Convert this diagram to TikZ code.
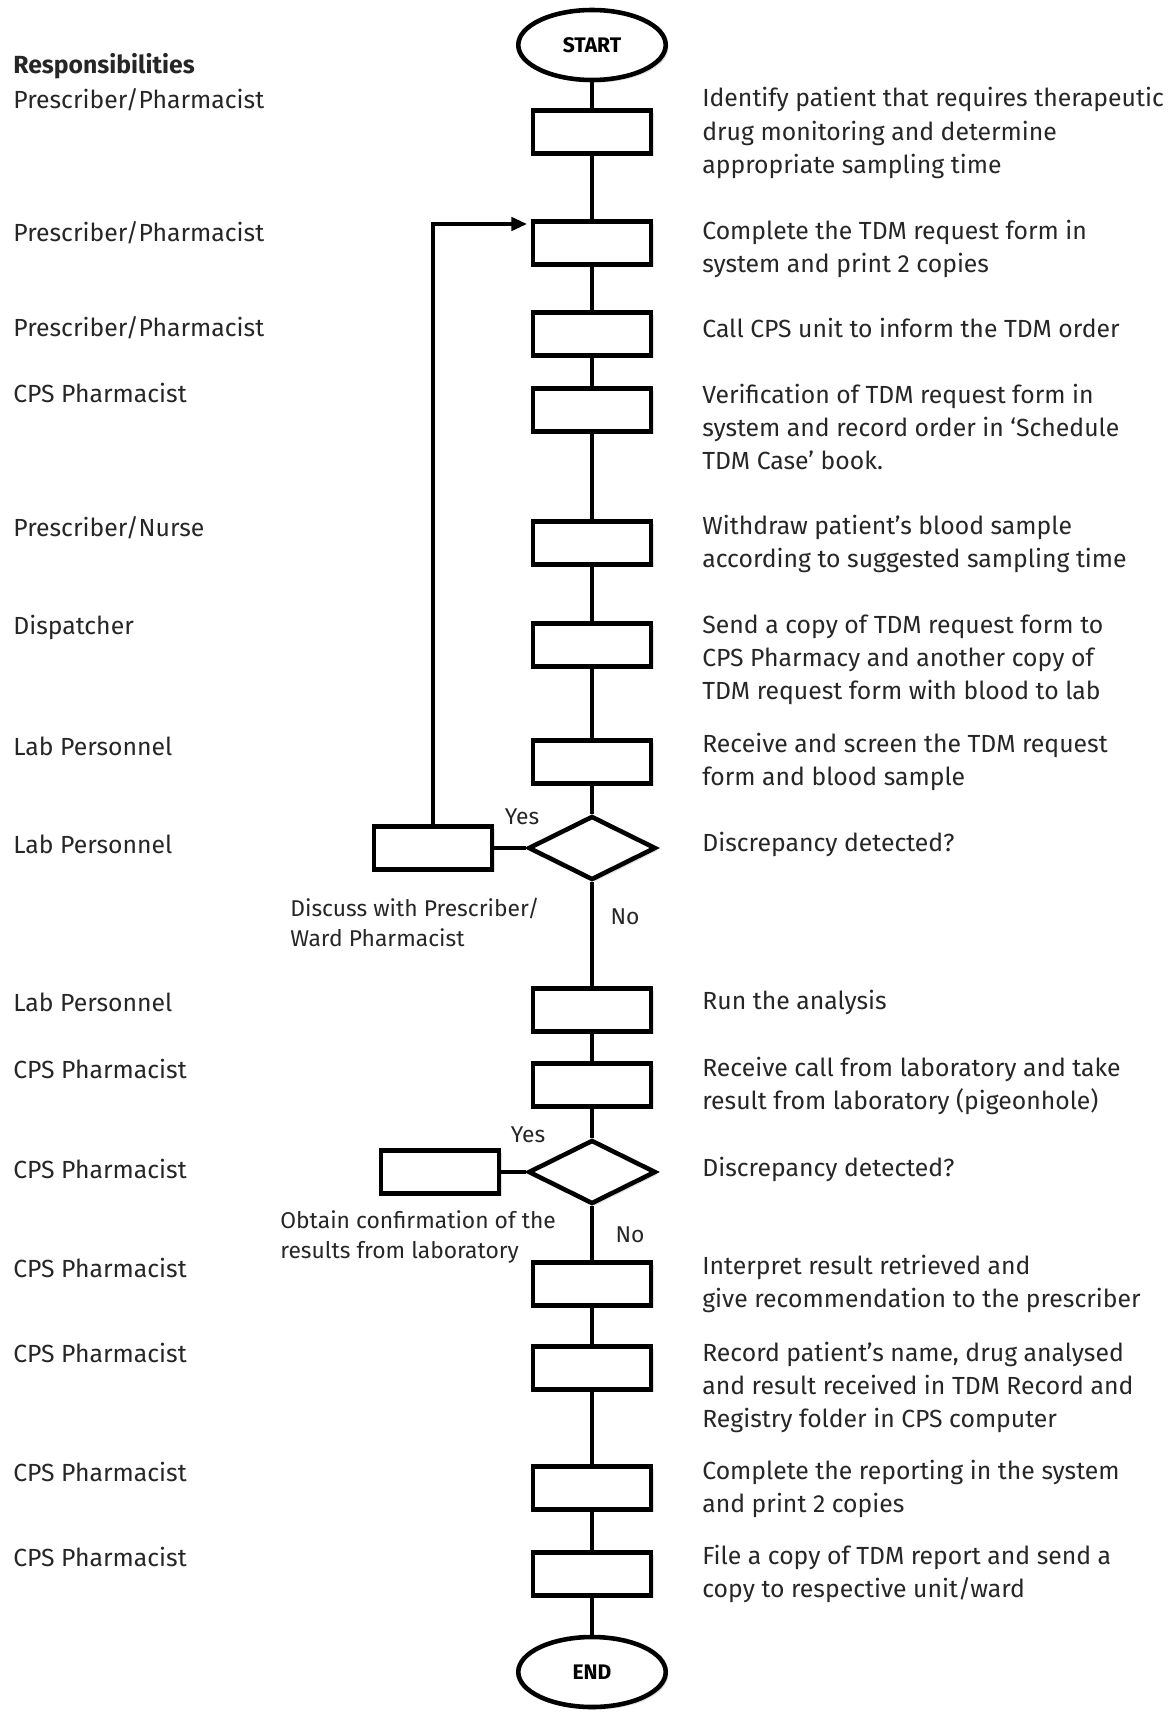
\documentclass[tikz,border=0pt]{standalone}
\usepackage{fontspec}
\setmainfont{Fira Sans}
\usetikzlibrary{shapes.geometric,positioning,arrows.meta,shadows}

\tikzset{
    box/.style={draw, line width=2.6pt, fill=white, minimum width=2.36cm, minimum height=0.86cm,
        drop shadow={opacity=0.25, shadow xshift=1.5pt, shadow yshift=-1.5pt}},
    dec/.style={draw, diamond, line width=2.6pt, fill=white, minimum width=2.55cm, minimum height=1.28cm,
        inner sep=0pt, drop shadow={opacity=0.25, shadow xshift=1.5pt, shadow yshift=-1.5pt}},
    term/.style={draw, ellipse, line width=2.6pt, fill=white, minimum width=2.95cm, minimum height=1.4cm,
        font=\bfseries\fontsize{12}{14}\selectfont,
        drop shadow={opacity=0.25, shadow xshift=1.5pt, shadow yshift=-1.5pt}},
    who/.style={anchor=west, inner sep=0pt, font=\fontsize{14.1}{18.8}\selectfont, text=black!85},
    what/.style={anchor=west, align=left, inner sep=0pt, font=\fontsize{14.1}{18.8}\selectfont, text=black!85},
    note/.style={anchor=west, align=left, inner sep=0pt, font=\fontsize{13}{17}\selectfont, text=black!85},
    link/.style={line width=2.6pt}
}

\begin{document}
\begin{tikzpicture}[x=0.02cm, y=-0.02cm]
    \useasboundingbox (0,0) rectangle (1173,1713);

    % Flow column
    \node[term] (start) at (592,45) {START};
    \node[box] (s1) at (592,132) {};
    \node[box] (s2) at (592,243) {};
    \node[box] (s3) at (592,334) {};
    \node[box] (s4) at (592,410) {};
    \node[box] (s5) at (592,543) {};
    \node[box] (s6) at (592,645) {};
    \node[box] (s7) at (592,762) {};
    \node[dec] (d1) at (592,848) {};
    \node[box] (s8) at (592,1010) {};
    \node[box] (s9) at (592,1085) {};
    \node[dec] (d2) at (592,1172) {};
    \node[box] (s10) at (592,1284) {};
    \node[box] (s11) at (592,1368) {};
    \node[box] (s12) at (592,1488) {};
    \node[box] (s13) at (592,1574) {};
    \node[term] (stop) at (592,1672) {END};

    % Side boxes
    \node[box] (x1) at (433,848) {};
    \node[box] (x2) at (440,1172) {};

    % Connections
    \draw[link] (start) -- (s1) -- (s2) -- (s3) -- (s4) -- (s5) -- (s6) -- (s7) -- (d1) -- (s8)
        -- (s9) -- (d2) -- (s10) -- (s11) -- (s12) -- (s13) -- (stop);
    \draw[link] (d1) -- (x1);
    \draw[link] (d2) -- (x2);
    \draw[link, -{Triangle[length=9pt, width=7.5pt]}, shorten >=2pt] (x1.north) |- ([yshift=0.38cm]s2.west);

    % Yes / No
    \node[note, anchor=center] (y1) at (522,817) {Yes};
    \node[note, anchor=center] (n1) at (625,917) {No};
    \node[note, anchor=center] (y2) at (528,1135) {Yes};
    \node[note, anchor=center] (n2) at (630,1235) {No};
    \node[note] (t1) at (290,922) {Discuss with Prescriber/\\Ward Pharmacist};
    \node[note] (t2) at (280,1237) {Obtain confirmation of the\\results from laboratory};

    % Responsibilities
    \node[who, font=\bfseries\fontsize{14.1}{18.8}\selectfont] (l0) at (13,66) {Responsibilities};
    \node[who] (l1) at (13,100) {Prescriber/Pharmacist};
    \node[who] (l2) at (13,233) {Prescriber/Pharmacist};
    \node[who] (l3) at (13,328) {Prescriber/Pharmacist};
    \node[who] (l4) at (13,393) {CPS Pharmacist};
    \node[who] (l5) at (13,528) {Prescriber/Nurse};
    \node[who] (l6) at (13,627) {Dispatcher};
    \node[who] (l7) at (13,746) {Lab Personnel};
    \node[who] (l8) at (13,844) {Lab Personnel};
    \node[who] (l9) at (13,1002) {Lab Personnel};
    \node[who] (l10) at (13,1069) {CPS Pharmacist};
    \node[who] (l11) at (13,1169) {CPS Pharmacist};
    \node[who] (l12) at (13,1268) {CPS Pharmacist};
    \node[who] (l13) at (13,1353) {CPS Pharmacist};
    \node[who] (l14) at (13,1472) {CPS Pharmacist};
    \node[who] (l15) at (13,1557) {CPS Pharmacist};

    % Descriptions
    \node[what] (r1) at (702,133) {Identify patient that requires therapeutic\\drug monitoring and determine\\appropriate sampling time};
    \node[what] (r2) at (702,249) {Complete the TDM request form in\\system and print 2 copies};
    \node[what] (r3) at (702,328) {Call CPS unit to inform the TDM order};
    \node[what] (r4) at (702,427) {Verification of TDM request form in\\system and record order in ‘Schedule\\TDM Case’ book.};
    \node[what] (r5) at (702,544) {Withdraw patient’s blood sample\\according to suggested sampling time};
    \node[what] (r6) at (702,660) {Send a copy of TDM request form to\\CPS Pharmacy and another copy of\\TDM request form with blood to lab};
    \node[what] (r7) at (702,762) {Receive and screen the TDM request\\form and blood sample};
    \node[what] (r8) at (702,844) {Discrepancy detected?};
    \node[what] (r9) at (702,1002) {Run the analysis};
    \node[what] (r10) at (702,1086) {Receive call from laboratory and take\\result from laboratory (pigeonhole)};
    \node[what] (r11) at (702,1169) {Discrepancy detected?};
    \node[what] (r12) at (702,1284) {Interpret result retrieved and\\give recommendation to the prescriber};
    \node[what] (r13) at (702,1387) {Record patient’s name, drug analysed\\and result received in TDM Record and\\Registry folder in CPS computer};
    \node[what] (r14) at (702,1489) {Complete the reporting in the system\\and print 2 copies};
    \node[what] (r15) at (702,1574) {File a copy of TDM report and send a\\copy to respective unit/ward};
\end{tikzpicture}
\end{document}
